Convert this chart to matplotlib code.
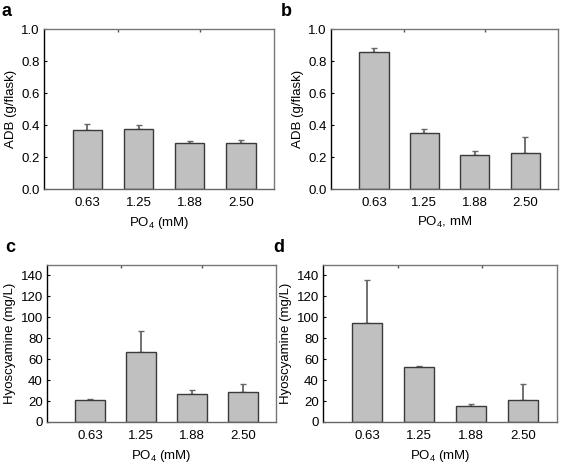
import numpy as np
import matplotlib
matplotlib.use('Agg')
import matplotlib.pyplot as plt
from matplotlib.ticker import FormatStrFormatter

plt.rcParams['font.family'] = ['Liberation Sans', 'DejaVu Sans']
plt.rcParams['mathtext.default'] = 'regular'
plt.rcParams['font.size'] = 9.5

# data
po4_levels = ['0.63', '1.25', '1.88', '2.50']
adb_a = [0.37, 0.375, 0.287, 0.285]
adb_a_err = [0.038, 0.026, 0.012, 0.022]
adb_b = [0.855, 0.35, 0.215, 0.225]
adb_b_err = [0.026, 0.027, 0.022, 0.10]
hyo_c = [21, 66.5, 26.6, 28.2]
hyo_c_err = [1, 20.3, 4.1, 7.9]
hyo_d = [94.7, 52.3, 14.9, 20.9]
hyo_d_err = [40.9, 0.9, 2.5, 15.2]

fig = plt.figure(figsize=(5.62, 4.68), dpi=100)

# axes boxes in pixels: left, right, top, bottom
boxes = {
    'a': (44, 274, 29, 189),
    'b': (331, 558, 29, 189),
    'c': (47, 276, 265, 422),
    'd': (323, 557, 265, 422),
}
W, H = 562, 468

panels = [
    ('a', adb_a, adb_a_err, 'ADB (g/flask)', r'PO$_4$ (mM)', (0, 1.0), np.arange(0, 1.01, 0.2), '%.1f'),
    ('b', adb_b, adb_b_err, 'ADB (g/flask)', r'PO$_4$, mM', (0, 1.0), np.arange(0, 1.01, 0.2), '%.1f'),
    ('c', hyo_c, hyo_c_err, 'Hyoscyamine (mg/L)', r'PO$_4$ (mM)', (0, 150), np.arange(0, 141, 20), '%d'),
    ('d', hyo_d, hyo_d_err, 'Hyoscyamine (mg/L)', r'PO$_4$ (mM)', (0, 150), np.arange(0, 141, 20), '%d'),
]

x = np.arange(len(po4_levels))
for letter, vals, errs, ylab, xlab, ylim, yticks, fmt in panels:
    l, r, t, b = boxes[letter]
    ax = fig.add_axes([l / W, 1 - b / H, (r - l) / W, (b - t) / H])
    ax.bar(x, vals, width=0.58, color='#c0c0c0', edgecolor='#3a3a3a', linewidth=1.0, zorder=2)
    ax.errorbar(x, vals, yerr=[np.zeros(len(vals)), errs], fmt='none',
                ecolor='#666666', elinewidth=1.3, capsize=2.5, capthick=1.0, zorder=1)
    ax.set_xlim(-0.85, 3.65)
    ax.set_ylim(*ylim)
    ax.set_yticks(yticks)
    ax.yaxis.set_major_formatter(FormatStrFormatter(fmt))
    ax.set_xticks(x)
    ax.set_xticklabels(po4_levels)
    ax.tick_params(axis='x', length=0, pad=6)
    ax.tick_params(axis='y', direction='in', length=2, width=0.8, pad=3)
    # small ticks on top edge
    sec = ax.secondary_xaxis('top')
    sec.set_xticks([0.6, 2.2])
    sec.set_xticklabels(['', ''])
    sec.tick_params(direction='in', length=2, width=1, color='#555555')
    sec.spines['top'].set_visible(False)
    ax.spines['left'].set_color('black')
    ax.spines['bottom'].set_color('#666666')
    ax.spines['top'].set_color('#777777')
    ax.spines['right'].set_color('#777777')
    for s in ax.spines.values():
        s.set_linewidth(1.0)
    ax.set_ylabel(ylab, labelpad=3)
    ax.set_xlabel(xlab, labelpad=4)
    fig.text((l - 42) / W if letter in 'ac' else (l - 50) / W, 1 - (t - 18) / H, letter,
             fontsize=13, fontweight='bold', va='center', ha='left')

fig.savefig('out.png', dpi=100)
